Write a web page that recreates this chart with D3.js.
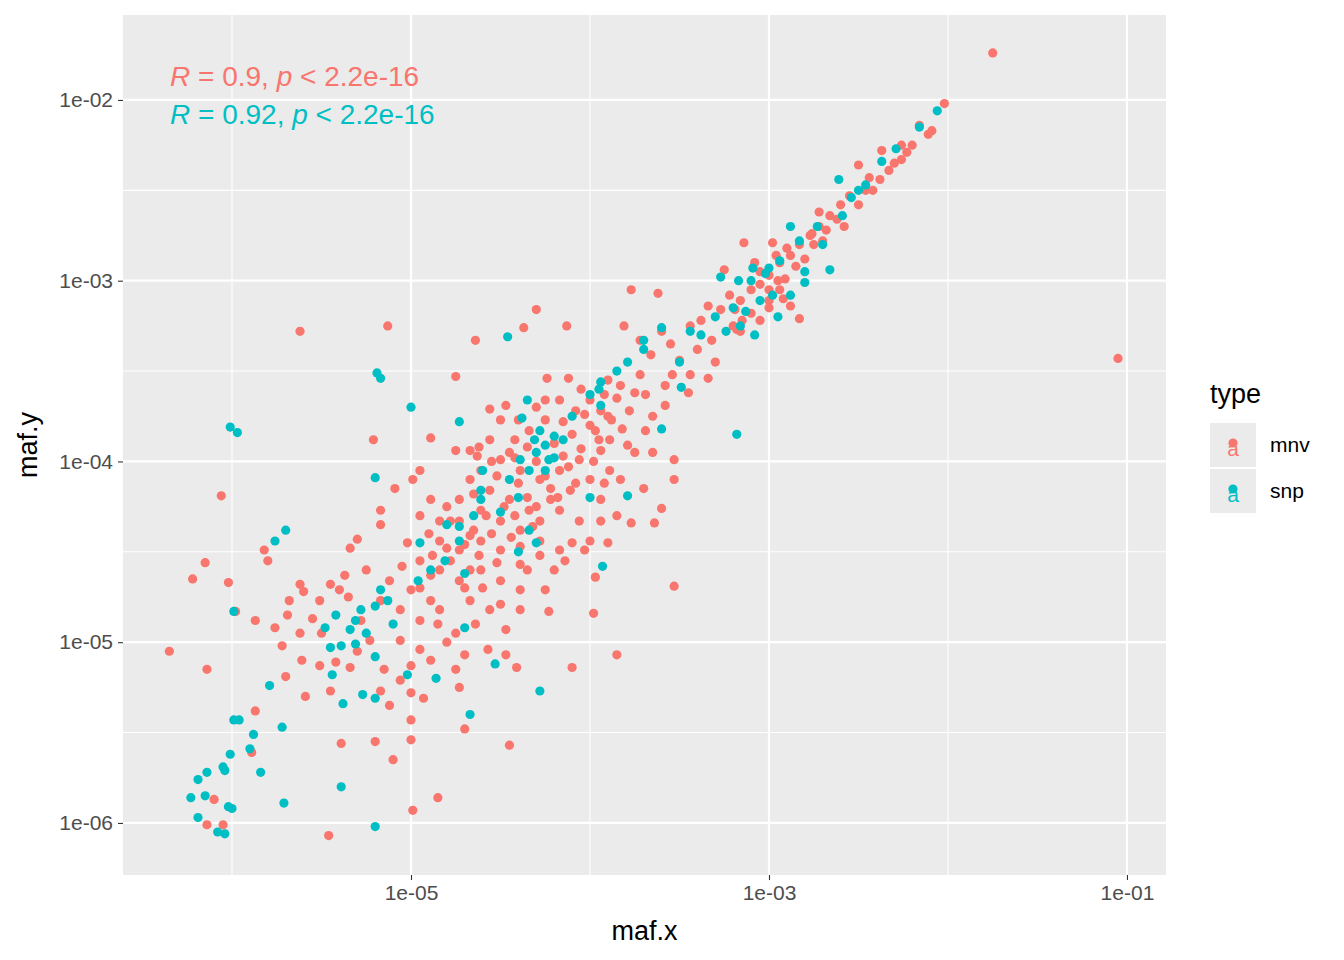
<!DOCTYPE html>
<html><head><meta charset="utf-8">
<script src="https://cdn.jsdelivr.net/npm/d3@7"></script>
<style>body{margin:0;background:#fff}</style></head>
<body><svg id="c" width="1344" height="960"></svg>
<script>
// log10(maf.x), log10(maf.y)
const mnvLog = [[-1.75,-1.74],[-1.05,-3.43],[-2.02,-2.02],[-2.09,-2.17],[-2.16,-2.14],[-2.26,-2.25],[-2.37,-2.28],[-2.26,-2.33],[-2.5,-2.36],[-2.38,-2.44],[-2.46,-2.5],[-2.55,-2.53],[-2.6,-2.58],[-2.66,-2.64],[-2.72,-2.7],[-2.77,-2.75],[-2.83,-2.8],[-2.88,-2.86],[-2.94,-2.9],[-2.98,-2.79],[-3.14,-2.79],[-3,-2.97],[-3.05,-3.02],[-3.1,-3.05],[-3.16,-3.11],[-3.22,-3.08],[-3.27,-3.16],[-3.34,-3.14],[-3.38,-3.22],[-3.44,-3.25],[-3.32,-3.33],[-3.16,-3.28],[-3.05,-3.22],[-2.83,-3.21],[-2.88,-3.14],[-2.94,-3.05],[-3.6,-3.28],[-3.66,-3.41],[-3.5,-3.44],[-3.54,-3.52],[-3.34,-3.54],[-3.77,-3.05],[-3.62,-3.07],[-3.81,-3.25],[-3.72,-3.33],[-3.72,-3.52],[-3.83,-3.58],[-3.92,-3.63],[-4,-3.66],[-3.94,-3.72],[-3.88,-3.77],[-3.78,-3.72],[-3.69,-3.83],[-3.79,-3.91],[-3.58,-3.69],[-3.53,-3.99],[-3.53,-4.1],[-3.6,-4.26],[-3.64,-4.34],[-3.77,-4.34],[-3.53,-4.69],[-3.85,-5.07],[-3.98,-4.84],[-4.1,-5.14],[-4.13,-3.25],[-4.12,-3.54],[-4.24,-3.54],[-4.37,-3.26],[-4.3,-3.16],[-4.64,-3.33],[-5.13,-3.25],[-5.62,-3.28],[-4.17,-3.66],[-4.08,-3.72],[-4.25,-3.77],[-4.34,-3.83],[-4.42,-3.88],[-4.5,-3.77],[-4.56,-3.88],[-4.67,-3.94],[-4.61,-4.05],[-4.5,-3.99],[-4.39,-4.05],[-4.28,-4.1],[-4.17,-4.05],[-4.06,-3.99],[-3.94,-3.94],[-3.89,-4.05],[-4,-4.1],[-4.11,-4.16],[-4.22,-4.21],[-4.34,-4.27],[-4.45,-4.21],[-4.56,-4.16],[-4.67,-4.1],[-4.73,-4.21],[-4.61,-4.27],[-4.5,-4.33],[-4.39,-4.38],[-4.28,-4.33],[-4.17,-4.27],[-4.06,-4.33],[-3.94,-4.21],[-3.83,-4.1],[-4.78,-4.33],[-4.84,-4.44],[-4.73,-4.49],[-4.61,-4.44],[-4.5,-4.49],[-4.39,-4.47],[-4.28,-4.44],[-4.17,-4.49],[-4,-4.44],[-4.95,-4.55],[-4.84,-4.6],[-4.73,-4.66],[-4.61,-4.6],[-4.5,-4.66],[-4.39,-4.71],[-4.25,-4.71],[-4.89,-4.77],[-5,-4.71],[-5.06,-4.82],[-4.95,-4.88],[-4.84,-4.82],[-4.67,-4.77],[-4.56,-4.82],[-4.47,-4.93],[-5.12,-4.66],[-5.17,-4.77],[-5.28,-4.88],[-5.23,-4.99],[-5.06,-4.99],[-4.95,-5.04],[-4.89,-5.1],[-5,-5.13],[-5.06,-5.21],[-5.17,-5.27],[-5.12,-5.35],[-4.93,-5.31],[-4.73,-5.25],[-4.7,-5.07],[-4.57,-5.04],[-4.47,-5.07],[-4.41,-5.14],[-4.7,-5.48],[-4.45,-5.57],[-5,-5.43],[-5,-5.54],[-5.39,-5.56],[-5.46,-6.07],[-4.99,-5.93],[-4.85,-5.86],[-5.62,-4.68],[-5.6,-4.72],[-5.34,-4.48],[-5.3,-4.43],[-5.37,-4.63],[-5.4,-4.71],[-5.51,-4.77],[-5.55,-4.87],[-5.62,-4.95],[-5.68,-4.77],[-5.69,-4.85],[-5.76,-4.92],[-5.72,-5.02],[-5.61,-5.1],[-5.51,-5.13],[-5.42,-5.11],[-5.34,-5.14],[-5.45,-5.27],[-5.59,-5.3],[-5.7,-5.19],[-5.82,-4.49],[-5.8,-4.55],[-5.87,-4.88],[-5.98,-4.83],[-6.02,-4.67],[-6.06,-4.19],[-6.15,-4.56],[-6.22,-4.65],[-6.14,-5.15],[-6.35,-5.05],[-5.87,-5.38],[-5.89,-5.61],[-6.1,-5.87],[-6.14,-6.01],[-6.05,-6.01],[-5.21,-3.88],[-5.17,-4.27],[-5.17,-4.35],[-5.09,-4.15],[-4.95,-4.05],[-4.99,-4.1],[-4.89,-4.21],[-4.84,-4.33],[-4.89,-3.87],[-4.75,-3.94],[-4.75,-3.53],[-4.63,-3.97],[-4.56,-3.71],[-4.47,-3.69],[-4.4,-3.77],[-4.25,-3.66],[-4.03,-3.74],[-3.97,-3.83],[-3.89,-3.88],[-3.94,-4.33],[-4.03,-4.49],[-4.14,-4.55],[-4.28,-4.52],[-4.39,-4.57],[-3.97,-4.64],[-4.23,-4.83],[-4.39,-4.82],[-4.5,-4.79],[-4.64,-4.9],[-4.75,-4.95],[-4.85,-4.9],[-4.67,-4.6],[-4.78,-4.55],[-4.89,-4.63],[-4.67,-4.41],[-4.73,-4.33],[-3.69,-3.63],[-3.44,-3.52],[-3.18,-3.27],[-3.19,-3.16],[-3.08,-2.9],[-2.96,-2.86],[-2.76,-2.74],[-2.72,-2.62],[-2.58,-2.7],[-2.44,-2.43],[-2.33,-2.39],[-2.23,-2.29],[-2.11,-2.19],[-3.25,-2.94],[-2.91,-2.99],[-3,-3.11],
[-4.45,-3.95],[-4.35,-3.92],[-4.2,-3.9],[-4.1,-3.85],[-4.0,-3.8],[-3.9,-3.75],[-4.3,-4.0],[-4.15,-3.97],[-4.05,-3.93],[-3.95,-3.88],[-4.4,-4.12],[-4.25,-4.08],[-4.12,-4.03],[-3.98,-4.0],[-4.52,-4.08],[-4.48,-4.25],[-4.35,-4.2],[-4.22,-4.15],[-4.08,-4.12],[-4.58,-4.3],[-4.42,-4.3],[-4.3,-4.25],[-4.18,-4.2],[-4.65,-4.38],[-4.55,-4.4],[-4.44,-4.42],[-4.32,-4.36],[-4.7,-4.46],[-4.62,-4.52],[-4.52,-4.56],[-4.8,-4.48],[-4.88,-4.52],[-4.9,-4.4],[-4.8,-4.25],[-4.65,-4.18],[-4.55,-4.0],[-4.42,-3.98],[-4.62,-3.92],[-4.3,-3.7],[-4.05,-3.6],[-3.85,-3.65],[-3.9,-3.55],[-4.15,-3.78],[-3.75,-3.62],[-3.82,-3.82],[-4.95,-4.3],[-5.02,-4.45],[-5.05,-4.58],[-4.95,-4.7],[-4.7,-4.7],[-4.6,-4.7],[-4.35,-4.6],[-4.2,-4.6],[-4.1,-4.45],[-3.9,-4.45],[-3.85,-4.3],[-3.92,-4.12],[-3.75,-3.95],[-3.65,-3.95],[-3.7,-4.15],[-3.3,-3.45],[-3.4,-3.38],[-3.55,-3.35],[-3.58,-3.58],[-3.45,-3.62],[-3.65,-3.75],[-5.25,-4.6],[-5.35,-4.75],[-5.45,-4.68],[-5.5,-4.95],[-5.3,-5.05],[-5.15,-5.15],[-5.0,-5.28],[-4.8,-5.0],[-4.75,-5.15],[-5.2,-5.55],[-5.1,-5.65],
[-3.05,-2.95],[-3.0,-3.05],[-2.95,-3.0],[-2.85,-2.92],[-2.8,-2.88],[-2.9,-2.82],[-2.75,-2.8],[-2.68,-2.72],[-3.1,-3.18],[-3.15,-3.22],[-3.2,-3.25],[-3.0,-3.15],[-2.92,-3.1],[-2.7,-2.78],[-2.62,-2.66],[-2.5,-2.58],[-2.42,-2.5],[-2.3,-2.35],[-2.2,-2.25]];
const snpLog = [[-2.06,-2.06],[-2.16,-2.15],[-2.29,-2.27],[-2.37,-2.34],[-2.46,-2.47],[-2.61,-2.44],[-2.54,-2.54],[-2.59,-2.64],[-2.73,-2.7],[-2.88,-2.7],[-2.83,-2.78],[-2.94,-2.89],[-3,-2.93],[-3.09,-2.93],[-3.27,-2.98],[-3.17,-3],[-2.66,-2.94],[-2.8,-3.01],[-2.88,-3.08],[-3.05,-3.11],[-3.13,-3.17],[-3.08,-3.3],[-3.16,-3.25],[-3.38,-3.3],[-3.24,-3.28],[-3.6,-3.26],[-3.44,-3.28],[-3.7,-3.33],[-3.7,-3.38],[-3.79,-3.45],[-3.5,-3.45],[-3.49,-3.59],[-3.18,-3.85],[-3.6,-3.82],[-3.94,-3.56],[-4.46,-3.31],[-4.35,-3.66],[-4.38,-3.76],[-4.28,-3.83],[-4.31,-3.88],[-4.25,-3.91],[-4.39,-3.99],[-4.34,-4.05],[-4.45,-4.1],[-4.61,-4.16],[-4.61,-4.21],[-4.73,-4.36],[-4.73,-4.44],[-4.81,-4.55],[-4.89,-4.6],[-4.96,-4.66],[-4.34,-4.38],[-3.79,-4.19],[-3.93,-4.58],[-5,-3.7],[-4.73,-3.78],[-5.2,-4.09],[-5.19,-3.51],[-5.17,-3.54],[-4.95,-4.45],[-5.13,-4.77],[-5.17,-4.71],[-5.2,-4.8],[-5.28,-4.82],[-5.31,-4.88],[-5.34,-4.93],[-5.42,-4.85],[-5.48,-4.92],[-5.45,-5.03],[-5.39,-5.02],[-5.31,-5.01],[-5.2,-5.08],[-5.44,-5.18],[-5.38,-5.34],[-5.27,-5.29],[-5.2,-5.31],[-5.02,-5.18],[-4.86,-5.2],[-4.7,-4.92],[-4.53,-5.12],[-4.28,-5.27],[-4.67,-5.4],[-5.39,-5.8],[-5.2,-6.02],[-5.76,-4.44],[-5.7,-4.38],[-6.01,-3.81],[-5.97,-3.84],[-5.99,-4.83],[-5.79,-5.24],[-5.72,-5.47],[-5.88,-5.51],[-5.96,-5.43],[-5.99,-5.43],[-6.01,-5.62],[-5.9,-5.59],[-5.84,-5.72],[-6.05,-5.69],[-6.04,-5.71],[-6.14,-5.72],[-6.19,-5.76],[-6.15,-5.85],[-6.23,-5.86],[-6.19,-5.97],[-6.08,-6.05],[-6.04,-6.06],[-6.02,-5.91],[-6,-5.92],[-5.71,-5.89],[-3.94,-3.69],[-4,-3.63],[-4.2,-3.86],[-4.23,-3.99],
[-4.3,-3.95],[-4.2,-3.98],[-4.25,-4.05],[-4.15,-3.88],[-4.4,-4.2],[-4.5,-4.28],[-4.6,-4.05],[-4.65,-4.3],[-4.8,-4.35],[-4.7,-4.62],[-4.4,-4.5],[-4.3,-4.45],[-4.1,-3.75],[-3.95,-3.6],[-3.85,-3.5],[-4.0,-4.2],[-5.1,-4.9],[-5.25,-4.95],[-3.02,-2.96],[-3.1,-3.0],[-2.98,-3.08],[-3.2,-3.15],[-2.95,-3.2],[-2.7,-2.8],[-2.5,-2.5],[-2.8,-2.95],[-3.3,-3.2]];
const xTicks = [1e-5, 1e-3, 1e-1];
const yTicks = [1e-6, 1e-5, 1e-4, 1e-3, 1e-2];
const xMinor = [1e-6, 1e-4, 1e-2];
const yMinor = [-5.5, -4.5, -3.5, -2.5, -1.5].map(v => Math.pow(10, v));
const types = ["mnv", "snp"];
const colors = ["#F8766D", "#00BFC4"];
const corText = [["0.9", "2.2e-16"], ["0.92", "2.2e-16"]];

const svg = d3.select("#c");
const L = 123, R = 1166, T = 15, B = 875;
const x = d3.scaleLog().domain([Math.pow(10, -6.609), Math.pow(10, -0.782)]).range([L, R]);
const y = d3.scaleLog().domain([Math.pow(10, -6.288), Math.pow(10, -1.53)]).range([B, T]);
svg.append("rect").attr("x", L).attr("y", T).attr("width", R - L).attr("height", B - T).attr("fill", "#EBEBEB");
const g = svg.append("g");
xMinor.forEach(v => g.append("line").attr("x1", x(v)).attr("x2", x(v)).attr("y1", T).attr("y2", B).attr("stroke", "#fff").attr("stroke-width", 1.1));
yMinor.forEach(v => g.append("line").attr("y1", y(v)).attr("y2", y(v)).attr("x1", L).attr("x2", R).attr("stroke", "#fff").attr("stroke-width", 1.1));
xTicks.forEach(v => g.append("line").attr("x1", x(v)).attr("x2", x(v)).attr("y1", T).attr("y2", B).attr("stroke", "#fff").attr("stroke-width", 2.2));
yTicks.forEach(v => g.append("line").attr("y1", y(v)).attr("y2", y(v)).attr("x1", L).attr("x2", R).attr("stroke", "#fff").attr("stroke-width", 2.2));

const ff = "Liberation Sans, Arial";
const fmt = d => d.toExponential(0).replace("e-", "e-0");
const xa = svg.append("g").attr("transform", `translate(0,${B})`).call(d3.axisBottom(x).tickValues(xTicks).tickFormat(fmt).tickSize(5).tickPadding(5));
const ya = svg.append("g").attr("transform", `translate(${L},0)`).call(d3.axisLeft(y).tickValues(yTicks).tickFormat(fmt).tickSize(5).tickPadding(5));
[xa, ya].forEach(a => {
  a.select(".domain").remove();
  a.selectAll("line").attr("stroke", "#333").attr("stroke-width", 1.1);
  a.selectAll("text").attr("fill", "#4D4D4D").style("font-family", ff).style("font-size", "21px");
});

const pts = svg.append("g");
[mnvLog, snpLog].forEach((arr, i) => {
  pts.selectAll(null).data(arr).enter().append("circle")
    .attr("cx", d => x(Math.pow(10, d[0]))).attr("cy", d => y(Math.pow(10, d[1])))
    .attr("r", 4.6).attr("fill", colors[i]);
});

svg.append("text").attr("x", (L + R) / 2).attr("y", 940).attr("text-anchor", "middle").style("font-family", ff).style("font-size", "27px").text("maf.x");
svg.append("text").attr("transform", `translate(37,${(T + B) / 2}) rotate(-90)`).attr("text-anchor", "middle").style("font-family", ff).style("font-size", "27px").text("maf.y");

corText.forEach((c, i) => {
  const t = svg.append("text").attr("x", 170).attr("y", 86 + i * 38).attr("fill", colors[i]).style("font-family", ff).style("font-size", "28px");
  t.append("tspan").style("font-style", "italic").text("R");
  t.append("tspan").text(" = " + c[0] + ", ");
  t.append("tspan").style("font-style", "italic").text("p");
  t.append("tspan").text(" < " + c[1]);
});

svg.append("text").attr("x", 1210).attr("y", 403).style("font-family", ff).style("font-size", "27px").text("type");
types.forEach((t, i) => {
  const yy = 423 + i * 46;
  svg.append("rect").attr("x", 1210).attr("y", yy).attr("width", 46).attr("height", 44).attr("fill", "#EBEBEB");
  svg.append("text").attr("x", 1233).attr("y", yy + 33).attr("text-anchor", "middle").attr("fill", colors[i]).style("font-family", ff).style("font-size", "21px").text("a");
  svg.append("circle").attr("cx", 1233).attr("cy", yy + 20).attr("r", 4.6).attr("fill", colors[i]);
  svg.append("text").attr("x", 1270).attr("y", yy + 29).style("font-family", ff).style("font-size", "21px").text(t);
});
</script></body></html>
